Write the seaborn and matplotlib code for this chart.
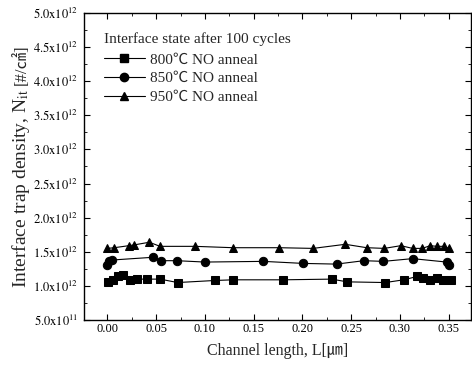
import matplotlib
matplotlib.use("Agg")
import matplotlib.pyplot as plt
import matplotlib.ticker as mticker
from matplotlib.lines import Line2D
import numpy as np
import pandas as pd
import seaborn as sns

# Channel length [um] and interface trap density [cm^-2] for each anneal temperature
x_800 = [0.001, 0.006, 0.011, 0.016, 0.023, 0.030, 0.041, 0.054, 0.072, 0.110, 0.129,
         0.180, 0.230, 0.246, 0.285, 0.304, 0.318, 0.324, 0.331, 0.338, 0.344, 0.352]
y_800 = [1.06e12, 1.09e12, 1.14e12, 1.16e12, 1.08e12, 1.10e12, 1.10e12, 1.10e12, 1.05e12,
         1.08e12, 1.09e12, 1.09e12, 1.10e12, 1.06e12, 1.05e12, 1.09e12, 1.14e12, 1.12e12,
         1.08e12, 1.12e12, 1.09e12, 1.08e12]

x_850 = [0.000, 0.002, 0.005, 0.047, 0.055, 0.071, 0.100, 0.160, 0.201, 0.235, 0.263,
         0.283, 0.313, 0.348, 0.350]
y_850 = [1.31e12, 1.36e12, 1.38e12, 1.42e12, 1.37e12, 1.37e12, 1.35e12, 1.36e12, 1.33e12,
         1.32e12, 1.37e12, 1.36e12, 1.40e12, 1.35e12, 1.30e12]

x_950 = [0.000, 0.007, 0.022, 0.027, 0.043, 0.054, 0.090, 0.129, 0.176, 0.211, 0.244,
         0.266, 0.284, 0.301, 0.313, 0.323, 0.331, 0.338, 0.345, 0.350]
y_950 = [1.55e12, 1.56e12, 1.59e12, 1.60e12, 1.64e12, 1.58e12, 1.58e12, 1.56e12, 1.56e12,
         1.55e12, 1.61e12, 1.56e12, 1.55e12, 1.59e12, 1.55e12, 1.55e12, 1.59e12, 1.58e12,
         1.58e12, 1.55e12]

series_labels = ["800\u2103 NO anneal", "850\u2103 NO anneal", "950\u2103 NO anneal"]
legend_title = "Interface state after 100 cycles"
x_ticks = [0.00, 0.05, 0.10, 0.15, 0.20, 0.25, 0.30, 0.35]
x_tick_labels = ["0.00", "0.05", "0.10", "0.15", "0.20", "0.25", "0.30", "0.35"]
y_ticks = [5e11, 1e12, 1.5e12, 2e12, 2.5e12, 3e12, 3.5e12, 4e12, 4.5e12, 5e12]
y_tick_labels = [r"$5.0\mathrm{x}10^{11}$"] + [
    r"$%s\mathrm{x}10^{12}$" % m for m in
    ["1.0", "1.5", "2.0", "2.5", "3.0", "3.5", "4.0", "4.5", "5.0"]]

sns.set_theme(style="ticks")
serif = ["Liberation Serif", "Noto Sans CJK SC", "DejaVu Serif"]
plt.rcParams["font.family"] = serif
plt.rcParams["mathtext.fontset"] = "stix"

fig = plt.figure(figsize=(4.72, 3.65), dpi=100)
ax = fig.add_axes([0.178, 0.123, 0.820, 0.842])

markers = ["s", "o", "^"]
msize = 6
data = [(x_800, y_800), (x_850, y_850), (x_950, y_950)]
handles = []
for (xs, ys), mk, lab in zip(data, markers, series_labels):
    df = pd.DataFrame({"L": xs, "Nit": ys})
    sns.lineplot(data=df, x="L", y="Nit", ax=ax, color="black", lw=0.8,
                 marker=mk, markersize=msize, markeredgecolor="black",
                 markerfacecolor="black", estimator=None, sort=True, legend=False)
    handles.append(Line2D([], [], color="black", lw=0.8, marker=mk, markersize=msize))

ax.set_xlim(-0.024, 0.373)
ax.set_ylim(5e11, 5e12)
ax.set_xticks(x_ticks)
ax.set_xticklabels(x_tick_labels)
ax.set_yticks(y_ticks)
ax.set_yticklabels(y_tick_labels)
ax.xaxis.set_minor_locator(mticker.MultipleLocator(0.025))
ax.yaxis.set_minor_locator(mticker.MultipleLocator(2.5e11))
ax.tick_params(which="both", direction="in", top=True, right=True, colors="black",
               labelsize=9)
ax.tick_params(which="major", length=4, width=0.8)
ax.tick_params(which="minor", length=2, width=0.6)
ax.tick_params(axis="x", pad=2)
ax.tick_params(axis="y", pad=4)
for sp in ax.spines.values():
    sp.set_linewidth(1.0)
    sp.set_color("black")

ax.set_xlabel("Channel length, L[\u339b]", fontsize=11.5, labelpad=6)
ax.set_ylabel(r"Interface trap density, N$_{\mathrm{it}}$", fontsize=14, labelpad=1)

leg = ax.legend(handles, series_labels, title=legend_title, loc="upper left",
                bbox_to_anchor=(0.035, 0.957), frameon=False, fontsize=11,
                title_fontsize=11, alignment="left", handlelength=2.7,
                handletextpad=0.35, labelspacing=0.33, borderaxespad=0)
leg._legend_box.sep = 5

# Unit of the trap density, continued after the rotated y label;
# the pair is centred together along the axis
unit = fig.text(0, 0, "[#/\u33a0]", rotation=90, ha="center", va="bottom",
                fontsize=12, family=serif)
fig.canvas.draw()
unit_h = unit.get_window_extent().height + 4
ax_h = ax.get_window_extent().height
ax.yaxis.label.set_y(0.5 - unit_h / 2 / ax_h)
fig.canvas.draw()
bb = ax.yaxis.label.get_window_extent()
unit.set_position(((bb.x0 + bb.x1) / 2 / fig.dpi / fig.get_figwidth(),
                   (bb.y1 + 4) / fig.dpi / fig.get_figheight()))

fig.savefig("out.png", dpi=100)
